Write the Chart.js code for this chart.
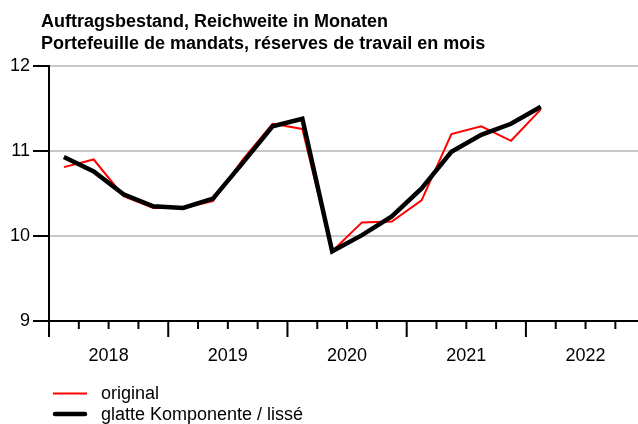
<!DOCTYPE html>
<html>
<head>
<meta charset="utf-8">
<script src="https://cdn.jsdelivr.net/npm/chart.js@4"></script>
<style>
  html, body { margin: 0; padding: 0; background: #fff; }
</style>
</head>
<body>
<canvas id="chart" width="638" height="424"></canvas>
<script>
// quarterly values
const quarters = ['2018Q1', '2018Q2', '2018Q3', '2018Q4',
                  '2019Q1', '2019Q2', '2019Q3', '2019Q4',
                  '2020Q1', '2020Q2', '2020Q3', '2020Q4',
                  '2021Q1', '2021Q2', '2021Q3', '2021Q4',
                  '2022Q1'];
const original = [10.81, 10.90, 10.47, 10.33, 10.33, 10.41, 10.90, 11.32,
                  11.26, 9.82, 10.16, 10.17, 10.42, 11.20, 11.29, 11.12, 11.49];
const smooth   = [10.93, 10.76, 10.49, 10.35, 10.33, 10.44, 10.86, 11.29,
                  11.38, 9.82, 10.01, 10.23, 10.56, 10.99, 11.19, 11.32, 11.52];
const years = [2018, 2019, 2020, 2021, 2022];
const yTicks = [9, 10, 11, 12];

const titleLines = ['Auftragsbestand, Reichweite in Monaten',
                    'Portefeuille de mandats, réserves de travail en mois'];
const seriesNames = ['original', 'glatte Komponente / lissé'];

const FONT = '"Liberation Sans", Arial, sans-serif';
Chart.defaults.font.family = FONT;

// quarter label -> position in years, point sits in the middle of the quarter
const toX = q => Number(q.slice(0, 4)) + (Number(q.slice(5)) - 0.5) / 4;

const xMin = years[0];
const xMax = years[0] + 19.76 / 4;

// title, legend and quarter tick marks
const decor = {
    id: 'decor',
    afterDraw(chart) {
        const ctx = chart.ctx;
        const xs = chart.scales.x;
        const bottom = chart.chartArea.bottom;
        ctx.save();

        // tick marks below the x axis, long ones at year boundaries
        ctx.strokeStyle = '#000';
        ctx.lineWidth = 2;
        xs.ticks.forEach(t => {
            const px = xs.getPixelForValue(t.value);
            const major = Math.abs(t.value - Math.round(t.value)) < 1e-6;
            ctx.beginPath();
            ctx.moveTo(px, bottom);
            ctx.lineTo(px, bottom + (major ? 16 : 8));
            ctx.stroke();
        });

        // title
        ctx.fillStyle = '#000';
        ctx.font = 'bold 18px ' + FONT;
        ctx.textBaseline = 'alphabetic';
        ctx.textAlign = 'left';
        ctx.fillText(titleLines[0], 41, 27);
        ctx.fillText(titleLines[1], 41, 49);

        // legend
        const ds = chart.data.datasets;
        const lines = [393.5, 414];
        const bases = [399, 420];
        ctx.font = '18px ' + FONT;
        ds.forEach((d, i) => {
            ctx.strokeStyle = d.borderColor;
            ctx.lineWidth = d.borderWidth;
            ctx.lineCap = i === 1 ? 'round' : 'butt';
            ctx.beginPath();
            ctx.moveTo(i === 1 ? 55 : 53, lines[i]);
            ctx.lineTo(i === 1 ? 85 : 87, lines[i]);
            ctx.stroke();
            ctx.fillText(seriesNames[i], 101, bases[i]);
        });
        ctx.restore();
    }
};

new Chart(document.getElementById('chart'), {
    type: 'line',
    data: {
        datasets: [{
            label: seriesNames[0],
            data: quarters.map((q, i) => ({ x: toX(q), y: original[i] })),
            borderColor: '#ff0000',
            borderWidth: 2,
            pointRadius: 0,
            tension: 0,
            order: 2
        }, {
            label: seriesNames[1],
            data: quarters.map((q, i) => ({ x: toX(q), y: smooth[i] })),
            borderColor: '#000000',
            borderWidth: 4.5,
            pointRadius: 0,
            tension: 0,
            order: 1
        }]
    },
    options: {
        responsive: false,
        animation: false,
        layout: { padding: { top: 66, left: 0, right: 0, bottom: 0 } },
        plugins: {
            legend: { display: false },
            title: { display: false },
            tooltip: { enabled: false }
        },
        scales: {
            x: {
                type: 'linear',
                min: xMin,
                max: xMax,
                afterBuildTicks: s => {
                    s.ticks = [];
                    for (let k = 0; k < 20; k++) s.ticks.push({ value: xMin + k / 4 });
                },
                afterFit: s => { s.height = 103; },
                grid: { display: false },
                border: { display: true, color: '#000', width: 2 },
                ticks: {
                    autoSkip: false,
                    maxRotation: 0,
                    padding: 16,
                    color: '#000',
                    font: { size: 18 },
                    callback: v => Math.abs(v - Math.floor(v) - 0.5) < 1e-6 ? String(Math.floor(v)) : ''
                }
            },
            y: {
                min: 9,
                max: 12,
                afterBuildTicks: s => { s.ticks = yTicks.map(v => ({ value: v })); },
                afterFit: s => { s.width = 49; },
                grid: {
                    color: c => (c.tick && c.tick.value === 9) ? '#000' : '#c8c8c8',
                    lineWidth: 2,
                    tickColor: '#000',
                    tickLength: 16,
                    tickWidth: 2
                },
                border: { color: '#000', width: 2 },
                ticks: { padding: 3, color: '#000', font: { size: 18 } }
            }
        }
    },
    plugins: [decor]
});
</script>
</body>
</html>
